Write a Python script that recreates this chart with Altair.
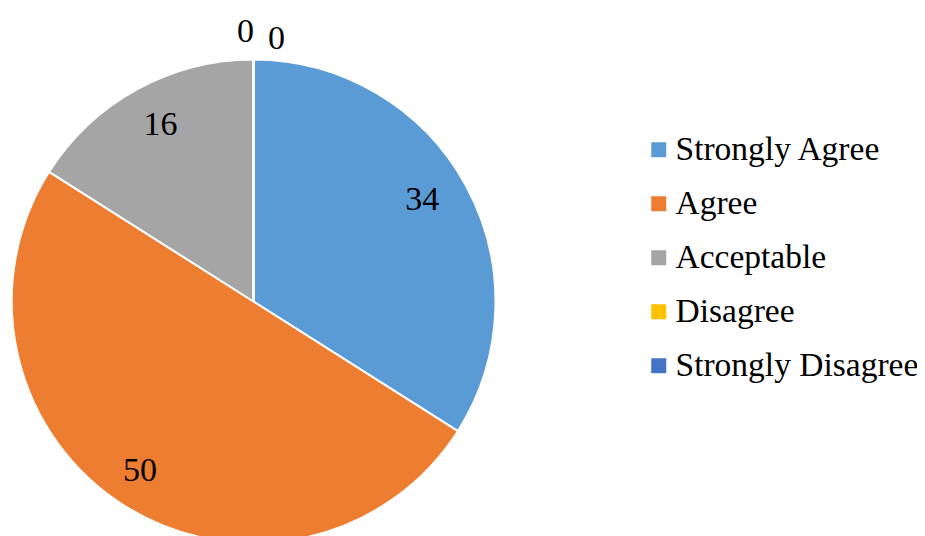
import altair as alt
import pandas as pd

categories = ["Strongly Agree", "Agree", "Acceptable", "Disagree", "Strongly Disagree"]
values = [34, 50, 16, 0, 0]
colors = ["#5B9BD5", "#ED7D31", "#A5A5A5", "#FFC000", "#4472C4"]

df = pd.DataFrame({"category": categories, "value": values, "idx": list(range(len(categories)))})

CX, CY = 245.5, 293.5
FONT = "Liberation Serif"

base = alt.Chart(df).encode(
    theta=alt.Theta("value:Q", stack=True),
    order=alt.Order("idx:Q", sort="ascending"),
    x=alt.value(CX),
    y=alt.value(CY),
)

pie = base.mark_arc(stroke="white", strokeWidth=2, radius=242).encode(
    color=alt.Color(
        "category:N",
        sort=categories,
        scale=alt.Scale(domain=categories, range=colors),
        legend=alt.Legend(
            title=None,
            orient="none",
            legendX=634,
            legendY=125,
            symbolType="square",
            symbolSize=225,
            symbolStrokeWidth=0,
            labelFont=FONT,
            labelFontSize=33.5,
            labelColor="black",
            labelOffset=0,
            labelLimit=0,
            rowPadding=19,
            padding=0,
        ),
    )
)


def label_layer(cat, radius, dx, dy):
    return base.transform_calculate(
        lbl=f"datum.category == '{cat}' ? format(datum.value, 'd') : ''"
    ).mark_text(radius=radius, dx=dx, dy=dy, font=FONT, fontSize=34, color="black").encode(text="lbl:N")


layers = [
    pie,
    label_layer("Strongly Agree", 197, -4, -7),
    label_layer("Agree", 197, -8, 3),
    label_layer("Acceptable", 197, 2, -4),
    label_layer("Disagree", 266, -8, -4),
    label_layer("Strongly Disagree", 266, 23, 3),
]

chart = alt.layer(*layers).properties(
    width=909,
    height=528,
    padding=0,
    autosize=alt.AutoSizeParams(type="none"),
    background="white",
).configure_view(stroke=None)

chart.save("out.html", embed_options={"renderer": "svg", "actions": False})
